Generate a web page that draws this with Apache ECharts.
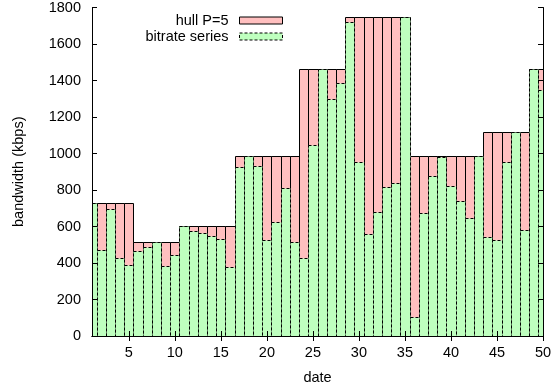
<!DOCTYPE html>
<html>
<head>
<meta charset="utf-8">
<script src="https://cdn.jsdelivr.net/npm/echarts@6/dist/echarts.min.js"></script>
<style>
html,body{margin:0;padding:0;background:#fff;}
#chart{width:555px;height:391px;}
</style>
</head>
<body>
<div id="chart"></div>
<script>
// ---- data ----
const dates = [1,2,3,4,5,6,7,8,9,10,11,12,13,14,15,16,17,18,19,20,21,22,23,24,25,26,27,28,29,30,31,32,33,34,35,36,37,38,39,40,41,42,43,44,45,46,47,48,49,50];
const hull = [730,730,730,730,730,515,515,515,515,515,604,604,604,604,604,604,988,988,988,988,988,988,988,1465,1465,1465,1465,1465,1750,1750,1750,1750,1750,1750,1750,988,988,988,988,988,988,988,988,1117,1117,1117,1117,1117,1462,1462];
const bitrate = [730,473,695,426,390,464,490,515,383,446,604,577,562,549,530,377,927,988,934,528,626,809,515,428,1048,1465,1298,1384,1719,954,559,680,816,840,1750,105,673,876,983,822,740,646,988,544,528,954,1117,580,1462,1348];
const xTicks = [5,10,15,20,25,30,35,40,45,50];
const seriesNames = ['hull P=5', 'bitrate series'];

const FONT = "'Liberation Sans', Arial, Helvetica, sans-serif";
const PINK = '#ffbfbf';
const GREEN = '#bfffbf';

function makeRender(fill, dash) {
  return function (params, api) {
    const x = api.value(0), y = api.value(1);
    const p0 = api.coord([x - 0.5, y]);
    const p1 = api.coord([x + 0.5, 0]);
    const cs = params.coordSys;
    const r = echarts.graphic.clipRectByRect(
      {x: p0[0], y: p0[1], width: p1[0] - p0[0], height: p1[1] - p0[1]},
      {x: cs.x, y: cs.y, width: cs.width, height: cs.height}
    );
    if (!r) return null;
    const x0 = Math.round(r.x) + 0.5, x1 = Math.round(r.x + r.width) + 0.5;
    const y0 = Math.round(r.y) + 0.5, y1 = Math.round(r.y + r.height) + 0.5;
    return {
      type: 'rect',
      shape: {x: x0, y: y0, width: x1 - x0, height: y1 - y0},
      style: {fill: fill, stroke: '#000', lineWidth: 1, lineDash: dash}
    };
  };
}

const hullData = dates.map((d, i) => [d, hull[i]]);
const bitData = dates.map((d, i) => [d, bitrate[i]]);

const chart = echarts.init(document.getElementById('chart'), null, {renderer: 'canvas'});
const axisCommon = {
  z: 10,
  axisLine: {show: true, lineStyle: {color: '#000', width: 1}},
  splitLine: {show: false}
};
chart.setOption({
  animation: false,
  backgroundColor: '#fff',
  textStyle: {fontFamily: FONT},
  grid: {left: 92, right: 12, top: 5, bottom: 55, containLabel: false},
  legend: {
    orient: 'vertical',
    right: 267,
    top: 8,
    align: 'right',
    itemWidth: 43,
    itemHeight: 7,
    itemGap: 1,
    selectedMode: false,
    icon: 'rect',
    textStyle: {fontFamily: FONT, fontSize: 14.5, color: '#000', padding: [0, 6, 0, 0]},
    data: [
      {name: seriesNames[0], icon: 'rect', itemStyle: {color: PINK, borderColor: '#000', borderWidth: 1, borderType: 'solid'}},
      {name: seriesNames[1], icon: 'rect', itemStyle: {color: GREEN, borderColor: '#000', borderWidth: 1, borderType: [3, 2]}}
    ]
  },
  xAxis: [
    Object.assign({}, axisCommon, {
      type: 'value', min: 1, max: 50, position: 'bottom',
      name: 'date', nameLocation: 'middle', nameGap: 34,
      nameTextStyle: {fontFamily: FONT, fontSize: 14.5, color: '#000'},
      axisTick: {show: true, inside: true, length: 5, lineStyle: {color: '#000'}, customValues: xTicks},
      axisLabel: {show: true, margin: 9, fontFamily: FONT, fontSize: 14.5, color: '#000', customValues: xTicks}
    }),
    Object.assign({}, axisCommon, {
      type: 'value', min: 1, max: 50, position: 'top',
      axisTick: {show: true, inside: true, length: 5, lineStyle: {color: '#000'}, customValues: xTicks},
      axisLabel: {show: false}
    })
  ],
  yAxis: [
    Object.assign({}, axisCommon, {
      type: 'value', min: 0, max: 1800, interval: 200, position: 'left',
      name: 'bandwidth (kbps)', nameLocation: 'middle', nameGap: 66,
      nameTextStyle: {fontFamily: FONT, fontSize: 14.5, color: '#000'},
      axisTick: {show: true, inside: true, length: 5, lineStyle: {color: '#000'}},
      axisLabel: {show: true, margin: 11, fontFamily: FONT, fontSize: 14.5, color: '#000',
        formatter: function (v) { return String(v); }}
    }),
    Object.assign({}, axisCommon, {
      type: 'value', min: 0, max: 1800, interval: 200, position: 'right',
      axisTick: {show: true, inside: true, length: 5, lineStyle: {color: '#000'}},
      axisLabel: {show: false}
    })
  ],
  series: [
    {
      name: seriesNames[0], type: 'custom', xAxisIndex: 0, yAxisIndex: 0,
      renderItem: makeRender(PINK, null),
      itemStyle: {color: PINK, borderColor: '#000', borderWidth: 1},
      encode: {x: 0, y: 1},
      data: hullData, silent: true, z: 2
    },
    {
      name: seriesNames[1], type: 'custom', xAxisIndex: 0, yAxisIndex: 0,
      renderItem: makeRender(GREEN, [3, 2]),
      itemStyle: {color: GREEN, borderColor: '#000', borderWidth: 1, borderType: [3, 2]},
      encode: {x: 0, y: 1},
      data: bitData, silent: true, z: 3
    }
  ]
});
</script>
</body>
</html>
